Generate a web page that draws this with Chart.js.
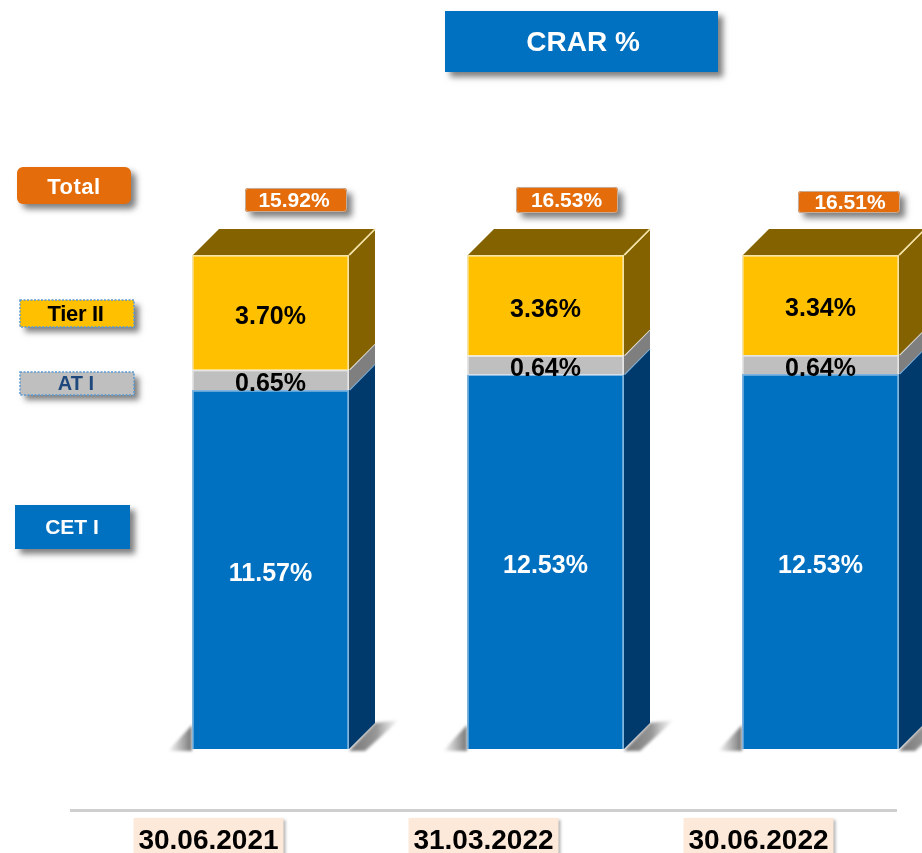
<!DOCTYPE html>
<html>
<head>
<meta charset="utf-8">
<title>CRAR %</title>
<script src="https://cdn.jsdelivr.net/npm/chart.js@4/dist/chart.umd.min.js"></script>
<style>
html, body { margin: 0; padding: 0; background: #fff; overflow: hidden; }
#wrap { width: 922px; height: 853px; overflow: hidden; }
canvas { display: block; }
</style>
</head>
<body>
<div id="wrap"><canvas id="chart" width="1000" height="853"></canvas></div>
<script>
var categories = ["30.06.2021", "31.03.2022", "30.06.2022"];
var cetValues = [11.57, 12.53, 12.53];
var atValues = [0.65, 0.64, 0.64];
var tierValues = [3.70, 3.36, 3.34];
var totalValues = [15.92, 16.53, 16.51];
var seriesNames = ["CET I", "AT I", "Tier II"];
var titleText = "CRAR %";
var totalName = "Total";

var FONT = '"Liberation Sans", Arial, sans-serif';
var DEPTH = 26;
var LABEL_SHIFT = -62;

// the reference is a 100% stacked column, every bar has the same height
function shares(values) {
    return values.map(function (v, i) {
        return v / (cetValues[i] + atValues[i] + tierValues[i]) * 100;
    });
}

function pct(v) {
    return v.toFixed(2) + "%";
}

function roundBox(ctx, x, y, w, h, r, fill, shadow) {
    ctx.save();
    if (shadow) {
        ctx.shadowColor = shadow.color;
        ctx.shadowOffsetX = shadow.dx;
        ctx.shadowOffsetY = shadow.dy;
        ctx.shadowBlur = shadow.blur;
    }
    ctx.fillStyle = fill;
    ctx.beginPath();
    ctx.roundRect(x, y, w, h, r);
    ctx.fill();
    ctx.restore();
}

function text(ctx, str, x, y, size, color, spacing) {
    ctx.save();
    ctx.font = "bold " + size + "px " + FONT;
    ctx.fillStyle = color;
    ctx.textAlign = "center";
    ctx.textBaseline = "middle";
    if (spacing) ctx.letterSpacing = spacing;
    ctx.fillText(str, x, y);
    ctx.restore();
}

function poly(ctx, pts, fill) {
    ctx.fillStyle = fill;
    ctx.beginPath();
    ctx.moveTo(pts[0][0], pts[0][1]);
    for (var i = 1; i < pts.length; i++) ctx.lineTo(pts[i][0], pts[i][1]);
    ctx.closePath();
    ctx.fill();
}

var sideColors = ["#00396b", "#7f7f7f", "#846200"];
var edgeColors = ["#7fb4de", "#e6e6e6", "#f3e3a8"];

var boxShadow = { color: "rgba(0,0,0,0.5)", dx: 5, dy: 5, blur: 6 };

var faces = {
    id: "faces",
    beforeDraw: function (chart) {
        var ctx = chart.ctx;
        var xs = chart.scales.x;

        // separator above the dates
        ctx.save();
        ctx.fillStyle = "#cfcfcf";
        ctx.fillRect(70, 809, 827, 3);
        ctx.restore();

        // date plates behind the tick labels
        categories.forEach(function (c, i) {
            var cx = xs.getPixelForTick(i) + LABEL_SHIFT;
            roundBox(ctx, cx - 75, 818, 150, 40, 0, "#fde9d9",
                { color: "rgba(0,0,0,0.3)", dx: 2, dy: 2, blur: 3 });
        });
    },
    beforeDatasetsDraw: function (chart) {
        var ctx = chart.ctx;
        ctx.save();
        categories.forEach(function (c, i) {
            var bottom = chart.getDatasetMeta(0).data[i];
            var left = bottom.x - bottom.width / 2;
            var right = bottom.x + bottom.width / 2;
            var base = bottom.base;

            // floor shadow either side of the column
            ctx.save();
            ctx.filter = "blur(1.5px)";
            var g1 = ctx.createLinearGradient(left - 24, 0, left, 0);
            g1.addColorStop(0, "rgba(110,110,110,0)");
            g1.addColorStop(1, "rgba(110,110,110,0.95)");
            poly(ctx, [[left - 24, base + 2], [left, base - 24], [left, base + 2]], g1);
            var g2 = ctx.createLinearGradient(right, 0, right + DEPTH + 24, 0);
            g2.addColorStop(0, "rgba(110,110,110,0.95)");
            g2.addColorStop(0.55, "rgba(125,125,125,0.8)");
            g2.addColorStop(1, "rgba(150,150,150,0)");
            poly(ctx, [[right, base + 2], [right + DEPTH, base - DEPTH], [right + DEPTH + 24, base - DEPTH - 3], [right + 16, base + 2]], g2);
            ctx.restore();

            // side faces, one per segment
            chart.data.datasets.forEach(function (ds, d) {
                var bar = chart.getDatasetMeta(d).data[i];
                poly(ctx, [[right, bar.base], [right, bar.y], [right + DEPTH, bar.y - DEPTH], [right + DEPTH, bar.base - DEPTH]], sideColors[d]);
                ctx.strokeStyle = edgeColors[d];
                ctx.lineWidth = 1.5;
                ctx.beginPath();
                ctx.moveTo(right + 0.5, bar.y);
                ctx.lineTo(right + DEPTH, bar.y - DEPTH);
                ctx.stroke();
            });

            // top of the column
            var top = chart.getDatasetMeta(2).data[i];
            poly(ctx, [[left + 1, top.y], [left + DEPTH + 1, top.y - DEPTH], [right + DEPTH, top.y - DEPTH], [right, top.y]], sideColors[2]);
            ctx.strokeStyle = edgeColors[2];
            ctx.lineWidth = 1.5;
            ctx.beginPath();
            ctx.moveTo(right, top.y);
            ctx.lineTo(right + DEPTH, top.y - DEPTH);
            ctx.stroke();
        });
        ctx.restore();
    },
    afterDatasetsDraw: function (chart) {
        var ctx = chart.ctx;
        var labelColors = ["#ffffff", "#000000", "#000000"];

        chart.data.datasets.forEach(function (ds, d) {
            var values = [cetValues, atValues, tierValues][d];
            chart.getDatasetMeta(d).data.forEach(function (bar, i) {
                text(ctx, pct(values[i]), bar.x, (bar.y + bar.base) / 2 + 4.5, 25, labelColors[d]);
            });
        });

        // totals above the columns
        var pillLeft = [245, 516, 798];
        var pillTop = [188, 187, 191];
        var pillBottom = [212, 213, 213];
        var pillText = [294, 566.5, 850];
        categories.forEach(function (c, i) {
            var h = pillBottom[i] - pillTop[i];
            roundBox(ctx, pillLeft[i], pillTop[i], 102, h, 3, "#e46c0a", boxShadow);
            ctx.save();
            ctx.strokeStyle = "rgba(190,190,190,0.8)";
            ctx.lineWidth = 1;
            ctx.beginPath();
            ctx.roundRect(pillLeft[i] + 0.5, pillTop[i] + 0.5, 101, h - 1, 3);
            ctx.stroke();
            ctx.restore();
            text(ctx, pct(totalValues[i]), pillText[i], (pillTop[i] + pillBottom[i]) / 2 + 1.5, 21, "#ffffff");
        });

        // title
        roundBox(ctx, 445, 11, 273, 61, 0, "#0070c0", boxShadow);
        text(ctx, titleText, 583, 43.5, 28, "#ffffff");

        // left hand key
        roundBox(ctx, 17, 167, 114, 37, 6, "#e46c0a", boxShadow);
        text(ctx, totalName, 74, 187.5, 22, "#ffffff", "0.5px");

        keyBox(ctx, 20, 300, 114, 27, "#ffc000");
        text(ctx, seriesNames[2], 75.5, 315, 22, "#000000", "-0.3px");

        keyBox(ctx, 20, 372, 114, 23, "#bfbfbf");
        text(ctx, seriesNames[1], 76, 384, 20, "#1f497d");

        roundBox(ctx, 15, 505, 115, 44, 0, "#0070c0", boxShadow);
        text(ctx, seriesNames[0], 72, 528.5, 21, "#ffffff");
    }
};

function keyBox(ctx, x, y, w, h, fill) {
    roundBox(ctx, x, y, w, h, 0, fill, boxShadow);
    ctx.save();
    ctx.strokeStyle = "#5b9bd5";
    ctx.lineWidth = 1.5;
    ctx.setLineDash([2, 1.5]);
    ctx.strokeRect(x, y, w, h);
    ctx.restore();
}

new Chart(document.getElementById("chart"), {
    type: "bar",
    data: {
        labels: categories,
        datasets: [
            { label: seriesNames[0], data: shares(cetValues), backgroundColor: "#0070c0", borderColor: edgeColors[0] },
            { label: seriesNames[1], data: shares(atValues), backgroundColor: "#bfbfbf", borderColor: edgeColors[1] },
            { label: seriesNames[2], data: shares(tierValues), backgroundColor: "#ffc000", borderColor: edgeColors[2] }
        ]
    },
    options: {
        responsive: false,
        animation: false,
        layout: { padding: { left: 133, right: 42, top: 255, bottom: 0 } },
        datasets: { bar: { barPercentage: 157 / 275, categoryPercentage: 1, borderWidth: 1.5 } },
        plugins: { legend: { display: false }, tooltip: { enabled: false } },
        scales: {
            x: {
                stacked: true,
                grid: { display: false },
                border: { display: false },
                afterFit: function (scale) { scale.height = 104; },
                ticks: {
                    color: "#000000",
                    font: { family: FONT, size: 28, weight: "bold" },
                    labelOffset: LABEL_SHIFT,
                    padding: 67,
                    maxRotation: 0,
                    autoSkip: false
                }
            },
            y: { stacked: true, display: false, min: 0, max: 100 }
        }
    },
    plugins: [faces]
});
</script>
</body>
</html>
